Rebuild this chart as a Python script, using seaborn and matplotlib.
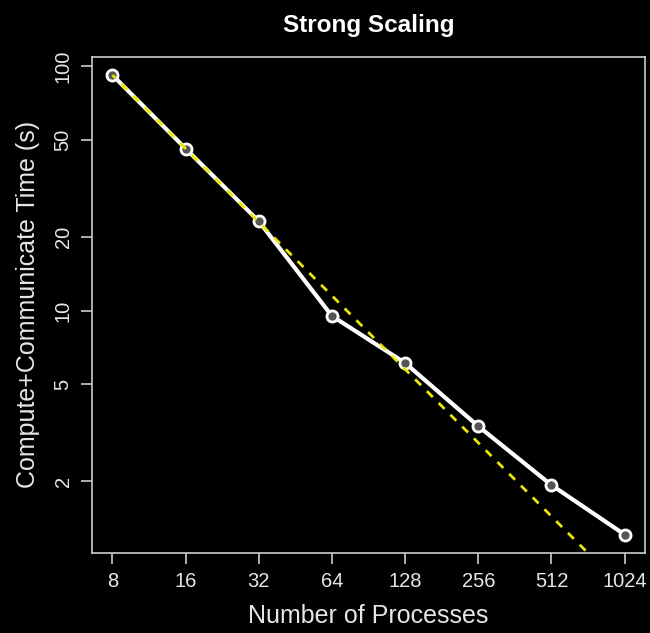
import matplotlib
matplotlib.use("Agg")
import matplotlib.pyplot as plt
import seaborn as sns
import numpy as np
import pandas as pd

procs = [8, 16, 32, 64, 128, 256, 512, 1024]
times = [92.0, 46.0, 23.2, 9.5, 6.1, 3.36, 1.93, 1.21]
yticks = [2, 5, 10, 20, 50, 100]
title = "Strong Scaling"
xlabel = "Number of Processes"
ylabel = "Compute+Communicate Time (s)"

sns.set_style("dark")
plt.rcParams['font.family'] = ['Liberation Sans', 'DejaVu Sans']

df = pd.DataFrame({"procs": procs, "time": times})
ideal = pd.DataFrame({"procs": procs,
                      "time": [times[0] * procs[0] / p for p in procs]})

fig = plt.figure(figsize=(6.5, 6.33), dpi=100, facecolor="black")
ax = fig.add_axes([0.1415, 0.1264, 0.851, 0.784])
ax.set_facecolor("black")

sns.lineplot(data=df, x="procs", y="time", ax=ax, color="white",
             linewidth=3, marker="o", markersize=8,
             markerfacecolor="#555555", markeredgecolor="white",
             markeredgewidth=2, zorder=3)
sns.lineplot(data=ideal, x="procs", y="time", ax=ax, color="#e8e800",
             linewidth=2, linestyle=(1.5, (3, 3)), zorder=4)

ax.set_xscale("log", base=2)
ax.set_yscale("log")
lx = np.log2(procs)
span = lx[-1] - lx[0]
ax.set_xlim(2 ** (lx[0] - 0.04 * span), 2 ** (lx[-1] + 0.04 * span))
ly = np.log10(times)
yspan = ly.max() - ly.min()
ax.set_ylim(10 ** (ly.min() - 0.04 * yspan), 10 ** (ly.max() + 0.04 * yspan))

ax.set_xticks(procs)
ax.set_xticklabels([str(p) for p in procs])
ax.set_yticks(yticks)
ax.set_yticklabels([str(t) for t in yticks], rotation=90, va="center")
ax.xaxis.set_minor_locator(matplotlib.ticker.NullLocator())
ax.yaxis.set_minor_locator(matplotlib.ticker.NullLocator())

ax.grid(False)
for s in ax.spines.values():
    s.set_visible(True)
    s.set_color("#cccccc")
    s.set_linewidth(1.2)
ax.tick_params(axis="both", which="major", direction="out", length=8,
               width=1.2, color="#cccccc", labelcolor="#e6e6e6",
               labelsize=14.5, pad=6, bottom=True, left=True)

ax.set_xlabel(xlabel, color="#e6e6e6", fontsize=18, labelpad=9)
ax.set_ylabel(ylabel, color="#e6e6e6", fontsize=18, labelpad=10)
ax.set_title(title, color="white", fontsize=17.5, fontweight="bold", pad=18)

fig.savefig("out.png", dpi=100, facecolor="black")
